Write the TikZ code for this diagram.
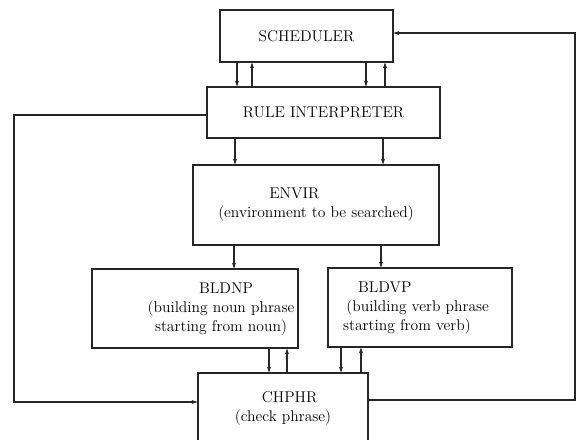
\documentclass[tikz,border=0pt]{standalone}
\usetikzlibrary{arrows.meta}
\begin{document}
\begin{tikzpicture}[x=0.03cm,y=-0.03cm,
  box/.style 2 args={draw=black!85,line width=0.9pt,minimum width=#1*0.03cm,minimum height=#2*0.03cm,inner sep=0pt},
  txt/.style={align=center,font=\fontsize{13.3}{16}\selectfont,text=black},
  link/.style={draw=black!85,line width=0.9pt,-{Stealth[length=5pt,width=3.5pt]}}]
\useasboundingbox (0,0) rectangle (576,440);
%boxes
\node[box={173}{52},txt] (sched) at (306.5,36) {SCHEDULER};
\node[box={233}{51},txt] (rule) at (323.5,112.5) {RULE INTERPRETER};
\node[box={246}{80},txt] (envir) at (316,205) {ENVIR\hspace*{1.3cm}\\(environment to be searched)};
\node[box={206}{79}] (bldnp) at (195,308.5) {};
\node[box={184}{79}] (bldvp) at (420,307.5) {};
\node[box={170}{71},txt] (chphr) at (283,408.5) {\hspace*{0.4cm}CHPHR\\(check phrase)};
\node[txt] (bldnptxt) at (221,309) {\hspace*{0.3cm}BLDNP\\(building noun phrase\\starting from noun)};
\node[txt,align=left,anchor=west] (bldvptxt) at (339,308) {\hspace*{0.45cm}BLDVP\\\hspace*{0.1cm}(building verb phrase\\starting from verb)};
%down and up links
\foreach\x in {237,366} {
  \draw[link] (sched.south -| \x,0) -- (rule.north -| \x,0);
}
\foreach\x in {252,385} {
  \draw[link] (rule.north -| \x,0) -- (sched.south -| \x,0);
}
\foreach\x in {235,383} {
  \draw[link] (rule.south -| \x,0) -- (envir.north -| \x,0);
}
\draw[link] (envir.south -| 234,0) -- (bldnp.north -| 234,0);
\draw[link] (envir.south -| 381,0) -- (bldvp.north -| 381,0);
\draw[link] (bldnp.south -| 269,0) -- (chphr.north -| 269,0);
\draw[link] (chphr.north -| 287,0) -- (bldnp.south -| 287,0);
\draw[link] (bldvp.south -| 341,0) -- (chphr.north -| 341,0);
\draw[link] (chphr.north -| 361,0) -- (bldvp.south -| 361,0);
%feedback loops
\draw[link] (rule.west |- 0,115) -| (14,402) -- (chphr.west |- 0,402);
\draw[link] (chphr.east |- 0,400) -| (575,33) -- (sched.east |- 0,33);
\end{tikzpicture}
\end{document}
